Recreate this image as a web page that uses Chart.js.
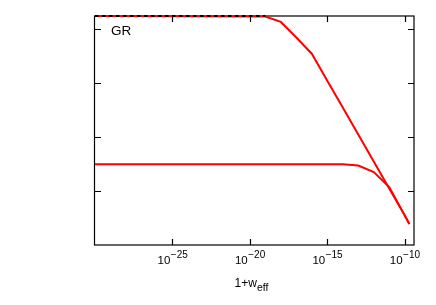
<!DOCTYPE html>
<html>
<head>
<meta charset="utf-8">
<script src="https://cdn.jsdelivr.net/npm/chart.js@4/dist/chart.umd.min.js"></script>
<style>
  html, body { margin: 0; padding: 0; background: #fff; }
</style>
</head>
<body>
<canvas id="plot" width="436" height="305"></canvas>
<script>
// x values are log10(1+w_eff)
const upperX = [-30, -19, -18, -17, -16, -15, -14, -13, -12, -11, -10, -9.7];
const upperY = [4.25, 4.24, 4.14, 3.85, 3.55, 3.05, 2.55, 2.05, 1.55, 1.05, 0.55, 0.39];
const lowerX = [-30, -14, -13, -12, -11, -10, -9.7];
const lowerY = [1.5, 1.5, 1.475, 1.355, 1.075, 0.55, 0.39];
const grX = [-30, -19];
const grY = [4.25, 4.25];
const xTicks = [-25, -20, -15, -10];
const yTicks = [1, 2, 3, 4];

const pts = (xs, ys) => xs.map((x, i) => ({ x: x, y: ys[i] }));
const FONT = '"Liberation Sans", Arial, sans-serif';

const frame = {
    id: 'frame',
    beforeDatasetsDraw(chart) {
        const c = chart.ctx, a = chart.chartArea;
        const sx = chart.scales.x, sy = chart.scales.y;
        c.save();
        c.strokeStyle = '#000';
        c.lineWidth = 1.2;
        c.strokeRect(a.left - 0.5, a.top, a.right - a.left + 0.5, a.bottom - a.top);
        c.beginPath();
        xTicks.forEach(v => {
            const px = Math.round(sx.getPixelForValue(v)) + 0.5;
            c.moveTo(px, a.bottom); c.lineTo(px, a.bottom - 6);
            c.moveTo(px, a.top); c.lineTo(px, a.top + 6);
        });
        yTicks.forEach(v => {
            const py = Math.round(sy.getPixelForValue(v)) + 0.5;
            c.moveTo(a.left, py); c.lineTo(a.left + 6, py);
            c.moveTo(a.right, py); c.lineTo(a.right - 6, py);
        });
        c.stroke();
        c.restore();
    },
    afterDraw(chart) {
        const c = chart.ctx, a = chart.chartArea;
        const sx = chart.scales.x;
        c.save();
        c.fillStyle = '#000';
        c.textBaseline = 'alphabetic';
        c.textAlign = 'left';
        xTicks.forEach(v => {
            const base = '10', sup = '\u2212' + Math.abs(v);
            c.font = '11.5px ' + FONT;
            const w1 = c.measureText(base).width;
            c.font = '10px ' + FONT;
            const w2 = c.measureText(sup).width;
            const x0 = sx.getPixelForValue(v) - (w1 + w2) / 2;
            c.font = '11.5px ' + FONT;
            c.fillText(base, x0, 264);
            c.font = '10px ' + FONT;
            c.fillText(sup, x0 + w1 + 0.5, 257.5);
        });
        // axis title
        c.font = '12px ' + FONT;
        const t1 = '1+w';
        const tw1 = c.measureText(t1).width;
        c.font = '10.5px ' + FONT;
        const tw2 = c.measureText('eff').width;
        const tx = (a.left + a.right) / 2 - 3 - (tw1 + tw2) / 2;
        c.font = '12px ' + FONT;
        c.fillText(t1, tx, 287);
        c.font = '10.5px ' + FONT;
        c.fillText('eff', tx + tw1, 290.5);
        // label
        c.font = '13.5px ' + FONT;
        c.fillText('GR', a.left + 16, 35);
        c.restore();
    }
};

new Chart(document.getElementById('plot'), {
    type: 'line',
    data: {
        datasets: [
            { data: pts(upperX, upperY), borderColor: '#ff0000', borderWidth: 2, clip: false, order: 2 },
            { data: pts(lowerX, lowerY), borderColor: '#ff0000', borderWidth: 2, clip: false, order: 2 },
            { data: pts(grX, grY), borderColor: '#000000', borderWidth: 2, borderDash: [3.5, 3.5], clip: false, order: 1 }
        ]
    },
    options: {
        responsive: false,
        animation: false,
        layout: { padding: { left: 95, right: 22, top: 16, bottom: 60 } },
        elements: { point: { radius: 0 }, line: { tension: 0 } },
        plugins: { legend: { display: false }, tooltip: { enabled: false } },
        scales: {
            x: { type: 'linear', min: -30, max: -9.4, display: false },
            y: { type: 'linear', min: 0, max: 4.25, display: false }
        }
    },
    plugins: [frame]
});
</script>
</body>
</html>
